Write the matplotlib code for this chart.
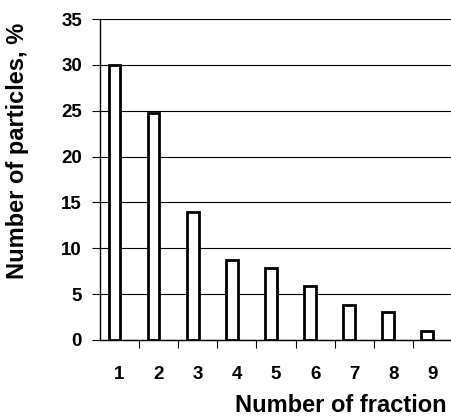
import numpy as np
import matplotlib
matplotlib.use('Agg')
import matplotlib.pyplot as plt

plt.rcParams['font.family'] = ['Liberation Sans', 'DejaVu Sans']
plt.rcParams['font.weight'] = 'bold'

# data
fractions = [1, 2, 3, 4, 5, 6, 7, 8, 9]
particles = [30, 24.8, 14, 8.7, 7.9, 5.9, 3.8, 3.0, 1.0]
yticks = [0, 5, 10, 15, 20, 25, 30, 35]

fig = plt.figure(figsize=(4.52, 4.18), dpi=100)
ax = fig.add_axes([100/452, 78/418, 352/452, 321/418])

x = np.array(fractions)
ax.bar(x - 0.13, particles, width=0.3, color='white', edgecolor='black',
       linewidth=2.0, zorder=3)

ax.set_xlim(0.5, 9.5)
ax.set_ylim(0, 35)
ax.set_yticks(yticks)
ax.yaxis.grid(True, color='black', linewidth=0.8, zorder=0)

ax.set_xticks(x)
ax.set_xticklabels([str(f) for f in fractions])
ax.set_xticks(np.arange(1.5, 9.5, 1), minor=True)
ax.tick_params(axis='x', which='major', length=0, pad=19, labelsize=13.5)
ax.tick_params(axis='x', which='minor', length=6, width=0.8, direction='out')
ax.tick_params(axis='y', length=6, width=0.8, pad=7, labelsize=13.5)

for s in ['top', 'right']:
    ax.spines[s].set_visible(False)
for s in ['left', 'bottom']:
    ax.spines[s].set_linewidth(1.0)

fig.text(18/452, 1 - 151/418, 'Number of particles, %', rotation=90,
         ha='center', va='center', fontsize=17, fontweight='bold')
fig.text(447/452, 1 - 405/418, 'Number of fraction', ha='right',
         va='center', fontsize=17, fontweight='bold')

plt.savefig('out.png', dpi=100)
